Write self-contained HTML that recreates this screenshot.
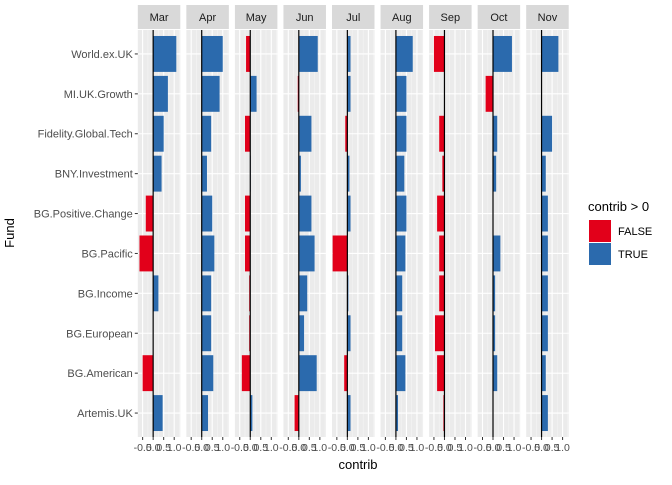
<!DOCTYPE html>
<html><head><meta charset="utf-8"><style>
body{margin:0;background:#fff;font-family:"Liberation Sans",Arial,sans-serif}
svg text{font-family:"Liberation Sans",Arial,sans-serif}
</style></head><body>
<svg id="chart" width="672" height="480" viewBox="0 0 672 480"></svg>
<script>
const months = ["Mar","Apr","May","Jun","Jul","Aug","Sep","Oct","Nov"];
const funds = ["World.ex.UK","MI.UK.Growth","Fidelity.Global.Tech","BNY.Investment","BG.Positive.Change","BG.Pacific","BG.Income","BG.European","BG.American","Artemis.UK"];
const valMar = [1.1,0.7,0.5,0.4,-0.35,-0.65,0.25,0,-0.5,0.45];
const valApr = [1.0,0.85,0.45,0.25,0.5,0.6,0.45,0.45,0.55,0.3];
const valMay = [-0.2,0.3,-0.25,0.02,-0.25,-0.25,-0.05,-0.05,-0.4,0.1];
const valJun = [0.9,-0.05,0.6,0.1,0.6,0.75,0.4,0.25,0.85,-0.2];
const valJul = [0.15,0.15,-0.1,0.1,0.15,-0.7,0.05,0.15,-0.15,0.15];
const valAug = [0.8,0.5,0.5,0.4,0.5,0.45,0.3,0.3,0.45,0.1];
const valSep = [-0.5,0,-0.25,-0.1,-0.35,-0.25,-0.25,-0.45,-0.35,-0.05];
const valOct = [0.9,-0.35,0.2,0.15,0,0.35,0.1,0.1,0.2,0];
const valNov = [0.8,0.02,0.5,0.2,0.3,0.3,0.3,0.3,0.2,0.3];
const xTicks = [-0.5,0,0.5,1.0];
const xTickLabels = ["-0.5","0.0","0.5","1.0"];
const legendLabels = ["FALSE","TRUE"];
const series = [valMar,valApr,valMay,valJun,valJul,valAug,valSep,valOct,valNov];

const svg = document.getElementById('chart');
const NS = "http://www.w3.org/2000/svg";
function mk(tag, attrs, parent){const e=document.createElementNS(NS,tag);for(const k in attrs)e.setAttribute(k,attrs[k]);(parent||svg).appendChild(e);return e;}
const panelL0=137.8, step=48.55, pw=42.5, pTop=30, pBot=437, xmin=-0.73, xmax=1.29;
const rowStep=(pBot-pTop)/(funds.length-1+1.2);
function yPos(i){return pTop+rowStep*(0.6+i);}
function xPos(p,v){return panelL0+p*step+(v-xmin)/(xmax-xmin)*pw;}

months.forEach((m,p)=>{
  const L=panelL0+p*step;
  const strip=mk('rect',{x:L,y:5,width:pw,height:24,fill:'#d9d9d9'});
  
  
  const st=mk('text',{x:L+pw/2,y:21,'text-anchor':'middle','font-size':'11',fill:'#1a1a1a'});st.textContent=m;
  
  
  const bg=mk('rect',{x:L,y:pTop,width:pw,height:pBot-pTop,fill:'#ebebeb'});
  
  
  [-0.75,-0.25,0.25,0.75,1.25].forEach(v=>{const x=xPos(p,v);if(x>L&&x<L+pw)mk('line',{x1:x,x2:x,y1:pTop,y2:pBot,stroke:'#f5f5f5','stroke-width':0.6});});
  xTicks.forEach(v=>{const x=xPos(p,v);mk('line',{x1:x,x2:x,y1:pTop,y2:pBot,stroke:'#fff','stroke-width':1.1});});
  funds.forEach((f,i)=>{mk('line',{x1:L,x2:L+pw,y1:yPos(i),y2:yPos(i),stroke:'#fff','stroke-width':1.1});});
  series[p].forEach((v,i)=>{
    const x0=xPos(p,0),x1=xPos(p,v);const h=rowStep*0.9;
    const r=mk('rect',{x:Math.min(x0,x1),y:yPos(i)-h/2,width:Math.max(Math.abs(x1-x0),0.3),height:h,fill:v>0?'#2b6aad':'#e2001a'});
    
    
  });
  const z=mk('line',{x1:xPos(p,0),x2:xPos(p,0),y1:pTop,y2:pBot,stroke:'#000','stroke-width':1.2});
  
  
  xTicks.forEach((v,k)=>{const x=xPos(p,v);mk('line',{x1:x,x2:x,y1:pBot,y2:pBot+3,stroke:'#333','stroke-width':1});
    const t=mk('text',{x:x,y:pBot+14,'text-anchor':'middle','font-size':'10.5',fill:'#4d4d4d'});t.textContent=xTickLabels[k];
    
    });
});
funds.forEach((f,i)=>{
  mk('line',{x1:panelL0-3,x2:panelL0,y1:yPos(i),y2:yPos(i),stroke:'#333','stroke-width':1});
  const t=mk('text',{x:panelL0-5,y:yPos(i)+4,'text-anchor':'end','font-size':'11',fill:'#4d4d4d'});t.textContent=f;
  
  
});
const xt=mk('text',{x:358,y:469,'text-anchor':'middle','font-size':'13',fill:'#000'});xt.textContent='contrib';


const yt=mk('text',{x:14,y:233,'text-anchor':'middle','font-size':'13',fill:'#000',transform:'rotate(-90 14 233)'});yt.textContent='Fund';


const lt=mk('text',{x:588,y:211,'font-size':'13',fill:'#000'});lt.textContent='contrib > 0';


legendLabels.forEach((l,k)=>{
  const y=220+k*23;
  const r=mk('rect',{x:589,y:y,width:22,height:22,fill:k?'#2b6aad':'#e2001a'});
  
  
  const t=mk('text',{x:618,y:y+15,'font-size':'11',fill:'#000'});t.textContent=l;
  
  
});
</script>
</body></html>
